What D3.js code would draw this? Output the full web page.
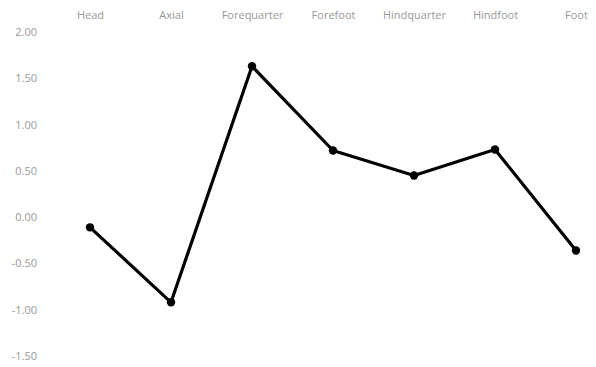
<!DOCTYPE html>
<html><head><meta charset="utf-8">
<script src="https://cdn.jsdelivr.net/npm/d3@7"></script>
<style>body{margin:0;background:#fff}svg{display:block}</style>
</head><body>
<svg id="c" width="596" height="367"></svg>
<script>
const categories = ["Head","Axial","Forequarter","Forefoot","Hindquarter","Hindfoot","Foot"];
const values = [-0.11,-0.92,1.63,0.72,0.45,0.73,-0.36];
const yTicks = [2.0,1.5,1.0,0.5,0.0,-0.5,-1.0,-1.5];

const svg = d3.select("#c");
const x = d3.scalePoint().domain(categories).range([90,576]);
const y = d3.scaleLinear().domain([-1.5,2.0]).range([356,32]);
const font = "'Open Sans', 'Noto Sans', sans-serif";

const yAxis = d3.axisLeft(y).tickValues(yTicks).tickFormat(d => d.toFixed(2)).tickSize(0).tickPadding(0);
const gy = svg.append("g").attr("transform","translate(37,0)").call(yAxis);
gy.select(".domain").remove();
gy.selectAll("text").attr("fill","#999").style("font-family",font).style("font-size","11px");

const xAxis = d3.axisTop(x).tickSize(0).tickPadding(0);
const gx = svg.append("g").attr("transform","translate(0,19)").call(xAxis);
gx.select(".domain").remove();
gx.selectAll("text").attr("fill","#999").style("font-family",font).style("font-size","11px");

const line = d3.line().x((d,i)=>x(categories[i])).y(d=>y(d));
svg.append("path").datum(values).attr("d",line).attr("fill","none").attr("stroke","#000").attr("stroke-width",3.2).attr("stroke-linejoin","round");
svg.selectAll("circle.pt").data(values).join("circle").attr("class","pt")
  .attr("cx",(d,i)=>x(categories[i])).attr("cy",d=>y(d)).attr("r",4.2).attr("fill","#000");
</script>
</body></html>
